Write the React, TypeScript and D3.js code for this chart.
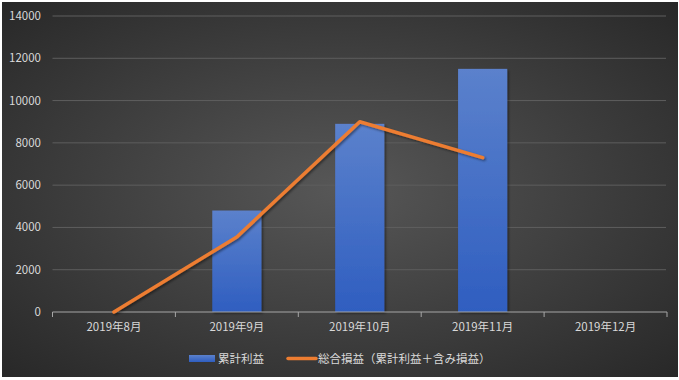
import React from "react";
import * as d3 from "d3";

const categories = ["2019年8月", "2019年9月", "2019年10月", "2019年11月", "2019年12月"];
const barValues: (number | null)[] = [0, 4800, 8900, 11500, null];
const lineValues: (number | null)[] = [0, 3550, 9000, 7300, null];
const yTicks = [0, 2000, 4000, 6000, 8000, 10000, 12000, 14000];
const barName = "累計利益";
const lineName = "総合損益（累計利益＋含み損益）";

const W = 679;
const H = 380;
const M = { left: 52.5, right: 12, top: 16, bottom: 68 };
const FONT = "'Noto Sans CJK JP', 'Noto Sans', sans-serif";

export default function App() {
  const x = d3.scaleBand<string>().domain(categories).range([M.left, 667]).paddingInner(0).paddingOuter(0);
  const y = d3.scaleLinear().domain([0, 14000]).range([312, 16]);
  const bw = x.bandwidth() / 2.5;

  const linePts = categories
    .map((c, i) => ({ c, v: lineValues[i] }))
    .filter((d) => d.v !== null) as { c: string; v: number }[];
  const line = d3
    .line<{ c: string; v: number }>()
    .x((d) => (x(d.c) as number) + x.bandwidth() / 2)
    .y((d) => y(d.v));

  const boundaries = [...categories.map((c) => x(c) as number), 667];

  return (
    <svg
      width={W}
      height={H}
      style={{ position: "absolute", left: 0, top: 0, display: "block" }}
      fontFamily={FONT}
    >
      <defs>
        <radialGradient id="bg" cx="50%" cy="50%" r="75%">
          <stop offset="0%" stopColor="#575757" />
          <stop offset="100%" stopColor="#252525" />
        </radialGradient>
        <linearGradient id="barG" x1="0" y1="0" x2="0" y2="1">
          <stop offset="0%" stopColor="#5b81cc" />
          <stop offset="100%" stopColor="#2f5ec0" />
        </linearGradient>
        <filter id="sh" x="-20%" y="-20%" width="140%" height="140%">
          <feDropShadow dx="1.5" dy="1.5" stdDeviation="1.2" floodColor="#000" floodOpacity="0.45" />
        </filter>
      </defs>
      <rect x={0} y={0} width={W} height={H} fill="#ffffff" />
      <rect x={2} y={2} width={676} height={375} fill="url(#bg)" />

      {yTicks.map((t) => (
        <g key={t}>
          {t !== 0 && (
            <line x1={M.left} x2={666} y1={y(t)} y2={y(t)} stroke="#5e5e5e" strokeWidth={1} />
          )}
          <text x={41} y={y(t)} dy="0.35em" textAnchor="end" fill="#d9d9d9" fontSize={11.5}>
            {t}
          </text>
        </g>
      ))}

      {categories.map((c, i) => {
        const v = barValues[i];
        if (v === null || v === 0) return null;
        const cx = (x(c) as number) + x.bandwidth() / 2;
        return (
          <rect
            key={c}
            x={cx - bw / 2}
            y={y(v)}
            width={bw}
            height={y(0) - y(v)}
            fill="url(#barG)"
            filter="url(#sh)"
          />
        );
      })}

      <line x1={M.left} x2={667} y1={y(0)} y2={y(0)} stroke="#a6a6a6" strokeWidth={1} />
      {boundaries.map((b, i) => (
        <line key={i} x1={b} x2={b} y1={y(0)} y2={y(0) + 5} stroke="#a6a6a6" strokeWidth={1} />
      ))}

      <path
        d={line(linePts) || ""}
        fill="none"
        stroke="#ed7d31"
        strokeWidth={3.5}
        strokeLinejoin="round"
        strokeLinecap="round"
        filter="url(#sh)"
      />

      {categories.map((c) => (
        <text
          key={c}
          x={(x(c) as number) + x.bandwidth() / 2}
          y={331}
          textAnchor="middle"
          fill="#d9d9d9"
          fontSize={11.5}
        >
          {c}
        </text>
      ))}

      <g>
        <rect x={189} y={355} width={26} height={7} fill="url(#barG)" />
        <text x={218} y={358.5} dy="0.35em" fill="#d9d9d9" fontSize={11.5}>
          {barName}
        </text>
        <line x1={288} x2={316} y1={358.5} y2={358.5} stroke="#ed7d31" strokeWidth={3.5} strokeLinecap="round" />
        <text x={318} y={358.5} dy="0.35em" fill="#d9d9d9" fontSize={11.5}>
          {lineName}
        </text>
      </g>
    </svg>
  );
}
